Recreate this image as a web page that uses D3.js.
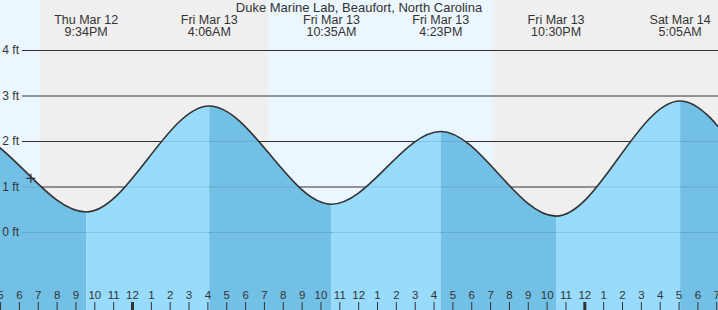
<meta charset="utf-8" />
<script src="https://d3js.org/d3.v7.min.js"></script>
<style>
  body { margin: 0; background: #fff; }
  svg text { font-family: "Liberation Sans", Arial, sans-serif; fill: #333; }
  .hours .domain, .feet .domain { display: none; }
  .feet line { stroke: #333; }
  .hours line { stroke: #333; }
</style>
<svg width="718" height="310"></svg>
<script>
  // tide extremes (first and last two are off screen, keep the curve shaped)
  var tideTimes = [
    "2026-03-12 09:00", "2026-03-12 15:10", "2026-03-12 21:34", "2026-03-13 04:06",
    "2026-03-13 10:35", "2026-03-13 16:23", "2026-03-13 22:30", "2026-03-14 05:05",
    "2026-03-14 11:20", "2026-03-14 17:40"
  ];
  var tideHeights = [0.5, 2.2, 0.44, 2.77, 0.61, 2.21, 0.35, 2.88, 0.6, 2.3];
  var labelIndex = [2, 3, 4, 5, 6, 7]; // extremes that get a top label

  var sunTimes = ["2026-03-12 19:10", "2026-03-13 07:13", "2026-03-13 19:09", "2026-03-14 07:12"];
  var sunKind = ["set", "rise", "set", "rise"];

  var nowTime = "2026-03-12 18:38", nowHeight = 1.18;
  var feetTicks = [0, 1, 2, 3, 4];
  var title = "Duke Marine Lab, Beaufort, North Carolina";

  var parse = d3.timeParse("%Y-%m-%d %H:%M");
  var svg = d3.select("svg"),
    width = +svg.attr("width"),
    height = +svg.attr("height");

  var x = d3.scaleTime()
    .domain([parse("2026-03-13 00:00"), parse("2026-03-14 00:00")])
    .range([132, 132 + 24 * 18.847]);
  var y = d3.scaleLinear().domain([0, 4]).range([232, 50]);

  var tides = tideTimes.map(function (t, i) {
    return { t: parse(t), h: tideHeights[i] };
  });
  var t0 = x.invert(0), t1 = x.invert(width);

  // day / night background
  var edges = [t0].concat(sunTimes.map(parse)).concat([t1]);
  var kinds = ["day"].concat(sunKind.map(function (k) { return k == "set" ? "night" : "day"; }));
  for (var i = 0; i < edges.length - 1; i++) {
    var a = Math.max(0, x(edges[i])), b = Math.min(width, x(edges[i + 1]));
    if (b <= a) continue;
    svg.append("rect")
      .attr("x", a).attr("y", 0)
      .attr("width", b - a).attr("height", height)
      .attr("fill", kinds[i] == "day" ? "#ebf6fe" : "#efefef");
  }

  // gridlines
  svg.append("g")
    .attr("class", "feet")
    .attr("transform", "translate(22,0)")
    .call(d3.axisLeft(y).tickValues(feetTicks).tickSize(-(width - 22)).tickFormat(""));

  // water
  var area = d3.area()
    .x(function (d) { return x(d.t); })
    .y0(height)
    .y1(function (d) { return y(d.h); })
    .curve(d3.curveMonotoneX);
  var line = d3.line()
    .x(function (d) { return x(d.t); })
    .y(function (d) { return y(d.h); })
    .curve(d3.curveMonotoneX);

  svg.append("clipPath").attr("id", "water")
    .append("path").attr("d", area(tides));

  var water = svg.append("g").attr("clip-path", "url(#water)");
  for (var j = 0; j < tides.length - 1; j++) {
    var falling = tides[j + 1].h < tides[j].h;
    water.append("rect")
      .attr("x", x(tides[j].t)).attr("y", 0)
      .attr("width", x(tides[j + 1].t) - x(tides[j].t)).attr("height", height)
      .attr("fill", falling ? "#72c0e6" : "#98dbfc");
  }
  // faint gridlines through the water
  water.selectAll(".wline")
    .data(feetTicks)
    .enter().append("line")
    .attr("x1", 22).attr("x2", width)
    .attr("y1", function (d) { return y(d) + 0.5; })
    .attr("y2", function (d) { return y(d) + 0.5; })
    .attr("stroke", "#000").attr("stroke-opacity", 0.1);

  svg.append("path")
    .attr("d", line(tides))
    .attr("fill", "none")
    .attr("stroke", "#333")
    .attr("stroke-width", 1.6);

  // feet labels on top of the water
  svg.append("g").selectAll("text")
    .data(feetTicks)
    .enter().append("text")
    .attr("x", 19)
    .attr("y", function (d) { return y(d) + 0.5; })
    .attr("dy", "0.32em")
    .attr("text-anchor", "end")
    .style("font-size", "12px")
    .text(function (d) { return d + " ft"; });

  // current position marker
  var nx = x(parse(nowTime)), ny = y(nowHeight);
  svg.append("path")
    .attr("d", "M" + (nx - 4.5) + "," + ny + "H" + (nx + 4.5) + "M" + nx + "," + (ny - 4.5) + "V" + (ny + 4.5))
    .attr("stroke", "#333").attr("stroke-width", 1.3);

  // hour axis
  var hourAxis = svg.append("g")
    .attr("class", "hours")
    .attr("transform", "translate(0," + height + ")")
    .call(d3.axisTop(x).tickValues(d3.timeHour.range(d3.timeHour.ceil(t0), t1))
      .tickSize(8).tickPadding(3).tickFormat(d3.timeFormat("%-I")));
  hourAxis.selectAll("text").style("font-size", "11.5px");
  hourAxis.selectAll(".tick line")
    .attr("stroke-width", function (d) { return d.getHours() == 0 ? 3 : 1; });

  // top labels
  var fmtDate = d3.timeFormat("%a %b %-d"), fmtTime = d3.timeFormat("%-I:%M%p");
  var labels = svg.selectAll(".tlabel")
    .data(labelIndex.map(function (i) { return tides[i]; }))
    .enter().append("g")
    .attr("transform", function (d) { return "translate(" + x(d.t) + ",0)"; });
  labels.append("text").attr("y", 24).attr("text-anchor", "middle")
    .style("font-size", "12.5px").text(function (d) { return fmtDate(d.t); });
  labels.append("text").attr("y", 36).attr("text-anchor", "middle")
    .style("font-size", "12.5px").text(function (d) { return fmtTime(d.t); });

  svg.append("text")
    .attr("x", width / 2).attr("y", 11.5)
    .attr("text-anchor", "middle")
    .style("font-size", "13px")
    .text(title);
</script>
